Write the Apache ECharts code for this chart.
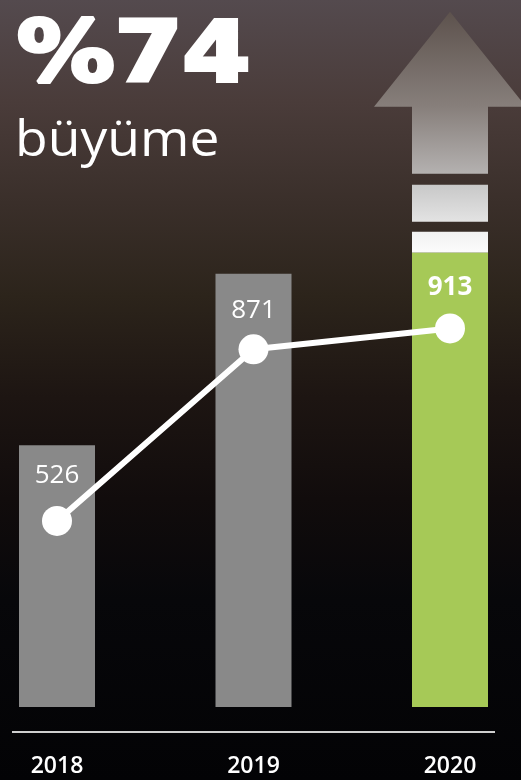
<!DOCTYPE html>
<html><head><meta charset="utf-8">
<script src="https://cdn.jsdelivr.net/npm/echarts@6/dist/echarts.min.js"></script>
<style>html,body{margin:0;padding:0;background:#000}#c{width:521px;height:780px}</style>
</head><body><div id="c"></div>
<script>
// ---- data ----
const years = ['2018', '2019', '2020'];
const values = [526, 871, 913];
const lineValues = [526, 871, 913];
const headline = '%74';
const subline = 'büyüme';

// ---- styling ----
const GRAY = '#898989';
const GREEN = '#a6c957';
const barColors = [GRAY, GRAY, GREEN];
const labelDistances = [17, 24, 22];

const chart = echarts.init(document.getElementById('c'), null, { renderer: 'canvas' });

const barData = values.map((v, i) => ({
  value: v,
  itemStyle: { color: barColors[i] },
  label: { fontWeight: i === values.length - 1 ? 'bold' : 'normal', distance: labelDistances[i] }
}));

const last = values.length - 1;

function renderArrow(params, api) {
  const pt = api.coord([api.value(0), api.value(1)]);
  const x = pt[0];
  const yTop = pt[1];
  const hw = 38;
  const grad = new echarts.graphic.LinearGradient(0, yTop - 241, 0, yTop, [
    { offset: 0, color: '#5d524d' },
    { offset: 0.394, color: '#877f7b' },
    { offset: 0.672, color: '#b4b1b0' },
    { offset: 0.718, color: '#c8c8c8' },
    { offset: 0.871, color: '#e3e3e3' },
    { offset: 0.913, color: '#f1f1f1' },
    { offset: 1, color: '#fcfcfc' }
  ], true);
  return {
    type: 'group',
    children: [
      { type: 'rect', shape: { x: x - hw, y: yTop - 21, width: hw * 2, height: 21 }, style: { fill: grad } },
      { type: 'rect', shape: { x: x - hw, y: yTop - 68, width: hw * 2, height: 37 }, style: { fill: grad } },
      { type: 'polygon', shape: { points: [
        [x - hw, yTop - 79], [x + hw, yTop - 79], [x + hw, yTop - 146],
        [x + hw * 2, yTop - 146], [x, yTop - 241], [x - hw * 2, yTop - 146], [x - hw, yTop - 146]
      ] }, style: { fill: grad } }
    ]
  };
}

const option = {
  backgroundColor: {
    type: 'linear', x: 0, y: 0, x2: 0, y2: 1,
    colorStops: [
      { offset: 0, color: '#544a4e' },
      { offset: 0.13, color: '#4a3c3a' },
      { offset: 0.26, color: '#3a2f2a' },
      { offset: 0.38, color: '#2c241b' },
      { offset: 0.51, color: '#1d1512' },
      { offset: 0.64, color: '#110c0c' },
      { offset: 0.77, color: '#07070a' },
      { offset: 1, color: '#030305' }
    ]
  },
  animation: false,
  grid: { left: 57, right: 71, top: 10.5, bottom: 73 },
  xAxis: {
    type: 'category',
    data: years,
    boundaryGap: false,
    axisLine: { show: false },
    axisTick: { show: false },
    splitLine: { show: false },
    axisLabel: {
      color: '#ffffff', fontSize: 23, fontWeight: 600,
      fontFamily: '"Open Sans", sans-serif', margin: 48
    }
  },
  yAxis: [
    { type: 'value', min: 0, max: 1400, show: false },
    { type: 'value', min: 152, max: 1552, show: false }
  ],
  graphic: [
    { type: 'line', shape: { x1: 12, y1: 732, x2: 495, y2: 732 }, style: { stroke: '#cfcfcf', lineWidth: 2 } },
    { type: 'text', x: 17, y: 59, scaleX: 1.16,
      style: { text: headline, fill: '#ffffff', stroke: '#ffffff', lineWidth: 4, lineJoin: 'miter',
        font: 'bold 84px "DejaVu Sans"', align: 'left', verticalAlign: 'middle' } },
    { type: 'text', x: 15, y: 142, scaleX: 1.09,
      style: { text: subline, fill: '#ffffff', font: '49px "Open Sans"', align: 'left', verticalAlign: 'middle' } }
  ],
  series: [
    {
      type: 'bar',
      data: barData,
      barWidth: 76,
      yAxisIndex: 0,
      label: {
        show: true, position: 'insideTop', distance: 20,
        color: '#ffffff', fontSize: 26, fontFamily: '"Open Sans", sans-serif'
      },
      z: 2
    },
    {
      type: 'custom',
      yAxisIndex: 0,
      data: [[last, values[last]]],
      renderItem: renderArrow,
      silent: true,
      z: 1
    },
    {
      type: 'line',
      yAxisIndex: 1,
      data: lineValues,
      symbol: 'circle',
      symbolSize: 30,
      lineStyle: { color: '#ffffff', width: 6 },
      itemStyle: { color: '#ffffff' },
      label: { show: false },
      z: 3
    }
  ]
};
chart.setOption(option);
</script>
</body></html>
